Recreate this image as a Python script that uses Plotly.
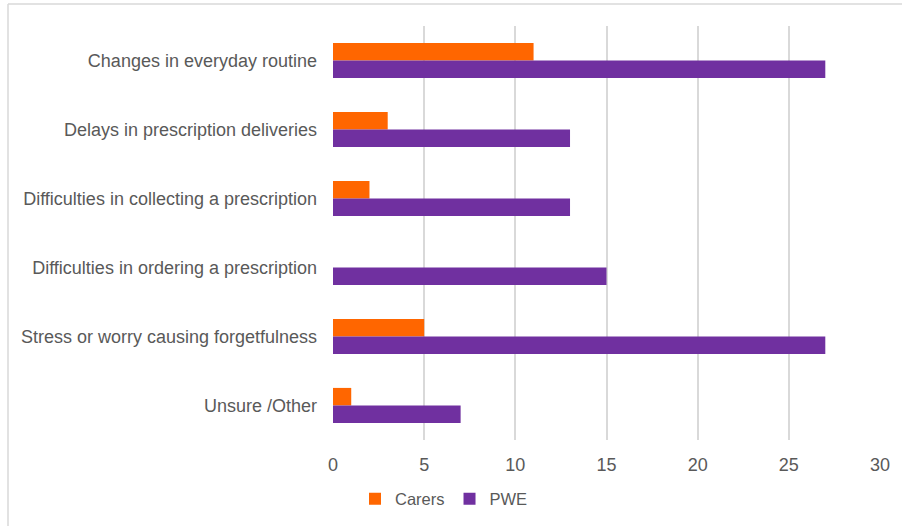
import plotly.graph_objects as go

categories = [
    "Changes in everyday routine",
    "Delays in prescription deliveries",
    "Difficulties in collecting a prescription",
    "Difficulties in ordering a prescription",
    "Stress or worry causing forgetfulness",
    "Unsure /Other",
]
carers = [11, 3, 2, 0, 5, 1]
pwe = [27, 13, 13, 15, 27, 7]
x_ticks = [0, 5, 10, 15, 20, 25, 30]

W, H = 902, 526
L, R, T, B = 333, 22, 26, 86
pw, ph = W - L - R, H - T - B

fig = go.Figure()
fig.add_trace(go.Bar(y=categories, x=carers, name="Carers", orientation="h",
                     marker=dict(color="#FF6600", line=dict(width=0))))
fig.add_trace(go.Bar(y=categories, x=pwe, name="PWE", orientation="h",
                     marker=dict(color="#7030A0", line=dict(width=0))))

font = dict(family="Liberation Sans, Arial, sans-serif", size=18, color="#595959")
lfont = dict(family="Liberation Sans, Arial, sans-serif", size=16.5, color="#595959")

# chart border (top and left edges visible)
bx = (8 - L) / pw
by = 1 + (T - 4) / ph
shapes = [
    dict(type="line", xref="paper", yref="paper", x0=bx, x1=(W - L) / pw + 0.01, y0=by, y1=by,
         line=dict(color="#D9D9D9", width=1.5)),
    dict(type="line", xref="paper", yref="paper", x0=bx, x1=bx, y0=by, y1=-(B + 5) / ph,
         line=dict(color="#D9D9D9", width=1.5)),
]

fig.update_layout(
    width=W, height=H,
    margin=dict(l=L, r=R, t=T, b=B, pad=0, autoexpand=False),
    paper_bgcolor="white", plot_bgcolor="white",
    barmode="group", bargap=0.49, bargroupgap=0,
    font=font,
    showlegend=True,
    legend=dict(orientation="h", x=(444 - L) / pw, xanchor="center",
                yref="container", y=(H - 499) / H, yanchor="middle",
                font=lfont, traceorder="normal", itemwidth=30),
    shapes=shapes,
    xaxis=dict(range=[0, 30], tickvals=x_ticks, showgrid=True, gridcolor="#D9D9D9",
               gridwidth=1.5, zeroline=False, showline=False, ticks="",
               tickfont=font, ticklabelstandoff=12, automargin=False, fixedrange=True),
    yaxis=dict(autorange="reversed", showgrid=False, showline=False, ticks="",
               tickfont=font, ticklabelstandoff=15, automargin=False, fixedrange=True),
)

fig.write_html("out.html", config={"displayModeBar": False},
               post_script="document.body.style.margin='0';document.body.style.padding='0';document.body.style.overflow='hidden';")
